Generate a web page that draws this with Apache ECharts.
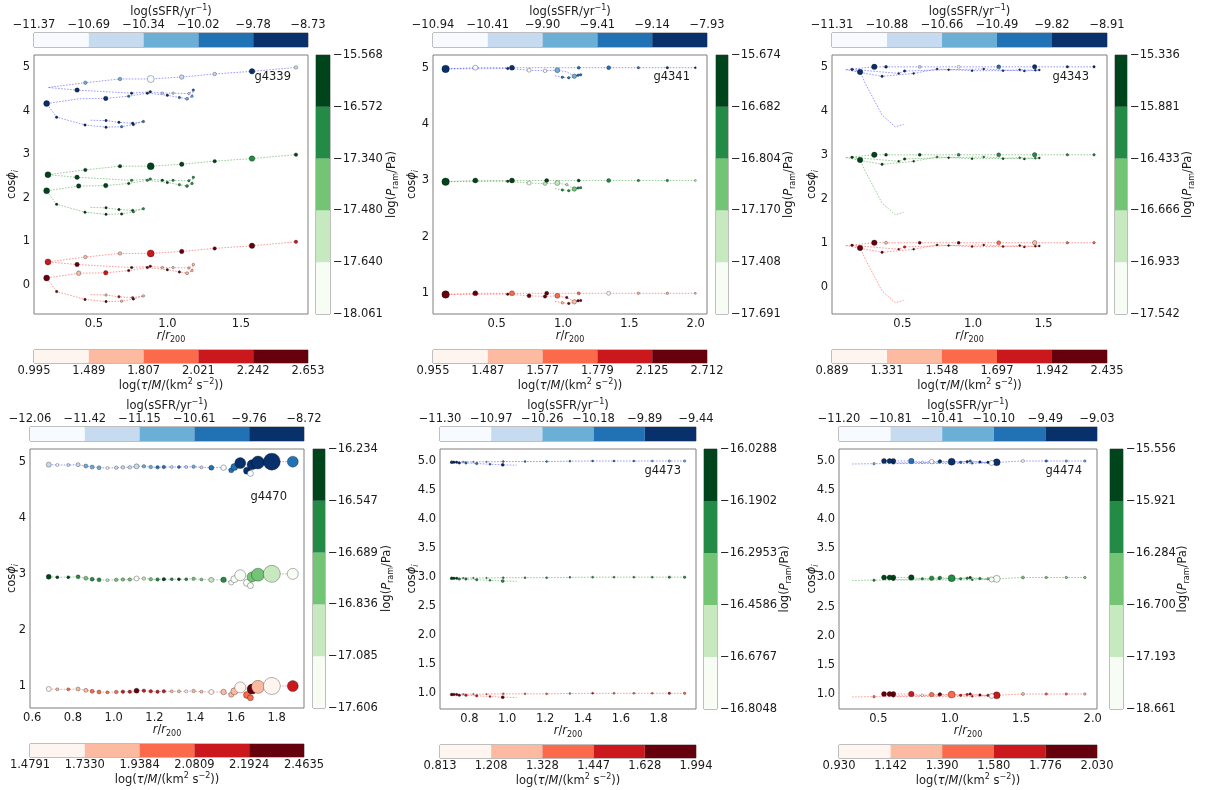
<!DOCTYPE html>
<html>
<head>
<meta charset="utf-8">
<script src="https://cdn.jsdelivr.net/npm/echarts@6/dist/echarts.min.js"></script>
<style>
  html, body { margin: 0; padding: 0; background: #fff; }
  #chart { width: 1205px; height: 790px; }
</style>
</head>
<body>
<div id="chart"></div>
<script>
// Five-level discrete colour maps used for the three tracks and their colour bars
const BLUES  = ['#f7fbff', '#c6dbef', '#6baed6', '#2171b5', '#08306b'];
const GREENS = ['#f7fcf5', '#c7e9c0', '#74c476', '#238b45', '#00441b'];
const REDS   = ['#fff5f0', '#fcbba1', '#fb6a4a', '#cb181d', '#67000d'];

// Vertical offsets of the three copies of each orbit (blue: sSFR, green: P_ram, red: tau/M)
const OFFSET_SSFR = 4, OFFSET_PRAM = 2, OFFSET_TAU = 0;

// ---- g4339 ----
const g4339_r    = [0.477,0.582,0.670,0.763,0.836,0.768,0.688,0.582,0.439,0.246,0.178, 0.396,0.580,0.736,0.863,0.999,1.081,1.133,1.167,1.176, 1.146,1.038,0.965,0.883,0.756,0.385,0.187, 0.441,0.677,0.886,1.097,1.321,1.575,1.874];
const g4339_cos  = [-0.22,-0.23,-0.27,-0.29,-0.25,-0.32,-0.37,-0.38,-0.33,-0.15,0.16, 0.27,0.28,0.33,0.40,0.35,0.30,0.27,0.33,0.47, 0.39,0.40,0.40,0.43,0.40,0.47,0.53, 0.64,0.725,0.725,0.77,0.84,0.90,0.99];
const g4339_size = [2,2.5,2.5,2.5,2.5,2.5,2.5,2.5,2.5,2.5,6, 4.5,4.5,2.5,2.5,2.5,2.5,3,2.5,2.5, 2.5,2.5,2.5,2.5,2.5,4.5,6, 3.5,3.5,7,4.5,3.5,5.5,3.5];
const g4339_ssfr = [null,4,4,4,3,4,3,4,4,4,4, null,4,3,4,4,3,2,2,3, 1,1,1,4,4,4,null, 2,2,0,1,1,4,1];
const g4339_pram = [null,4,4,4,3,3,4,4,4,4,4, 4,4,4,3,4,3,3,3,3, 3,3,4,3,3,4,4, 4,4,4,4,4,3,4];
const g4339_tau  = [null,1,3,3,1,4,1,4,4,4,4, 1,3,4,4,4,4,1,1,1, 1,1,1,4,4,4,3, 1,1,3,4,4,4,3];
const g4339_ssfrTicks = ['−11.37','−10.69','−10.34','−10.02','−9.78','−8.73'];
const g4339_pramTicks = ['−18.061','−17.640','−17.480','−17.340','−16.572','−15.568'];
const g4339_tauTicks  = ['0.995','1.489','1.807','2.021','2.242','2.653'];

// ---- g4341 ----
const g4341_r    = [1.997,1.786,1.568,1.344,1.118,0.877,0.615,0.339,0.115, 0.583,0.744,0.864,0.957,1.028,1.085,1.133,1.113,1.043,0.995,0.930];
const g4341_cos  = [1.0,1.0,1.0,1.0,1.0,1.0,1.0,1.0,0.979, 0.985,0.956,0.944,0.956,0.926,0.849,0.873,0.867,0.820,0.832,0.861];
const g4341_size = [2,2.5,2.5,4,3,4,5,5,7.5, 2.5,4,3.5,5,2.5,4.5,2.5,2.5,2.5,2.5,1.5];
const g4341_ssfr = [4,4,3,3,3,null,4,0,4, 4,0,0,2,null,2,3,3,3,3,null];
const g4341_pram = [1,3,3,3,4,4,4,4,4, 4,0,1,1,1,2,3,3,3,3,null];
const g4341_tau  = [1,1,1,0,2,4,2,4,4, 4,4,4,2,4,1,4,4,4,1,null];
const g4341_ssfrTicks = ['−10.94','−10.41','−9.90','−9.41','−9.14','−7.93'];
const g4341_pramTicks = ['−17.691','−17.408','−17.170','−16.804','−16.682','−15.674'];
const g4341_tauTicks  = ['0.955','1.487','1.577','1.779','2.125','2.712'];

// ---- g4343 ----
const g4343_r    = [1.858,1.669,1.437,1.182,0.898,0.622,0.383,0.300,0.095, 0.355,0.579,0.745,0.993,1.213,1.331,1.442,1.470,1.364,1.076,0.827,0.515,0.473,0.142,0.199, 0.236,0.355,0.449,0.508];
const g4343_cos  = [1.0,1.0,1.0,1.0,1.0,1.0,1.0,1.0,0.936, 0.784,0.852,0.951,0.913,0.913,0.936,0.921,0.928,0.906,0.951,0.936,0.906,0.852,0.943,0.883, 0.625,-0.097,-0.362,-0.309];
const g4343_size = [2.5,2.5,4.5,4,3,3,3,5.5,1.5, 2.5,2,2,2,2,2,2,2,2,2,2,2.5,2,2.5,5.5, 1.5,1.5,1.5,1.5];
const g4343_ssfr = [4,4,4,3,0,1,4,4,null, 4,4,4,4,4,4,4,4,4,4,4,4,4,4,4, null,null,null,null];
const g4343_pram = [3,3,3,3,3,4,4,4,null, 4,4,3,4,4,3,3,4,4,3,4,4,4,4,4, null,null,null,null];
const g4343_tau  = [2,2,1,2,4,4,1,4,null, 4,4,4,4,4,4,4,4,4,4,4,3,4,4,4, null,null,null,null];
const g4343_ssfrTicks = ['−11.31','−10.88','−10.66','−10.49','−9.82','−8.91'];
const g4343_pramTicks = ['−17.542','−16.933','−16.666','−16.433','−15.881','−15.336'];
const g4343_tauTicks  = ['0.889','1.331','1.548','1.697','1.942','2.435'];

// ---- g4470 ----
const g4470_r    = [0.681,0.723,0.777,0.825,0.863,0.894,0.928,0.969,1.012,1.045,1.079,1.112,1.148,1.182,1.215,1.246,1.285,1.320,1.356,1.392,1.431,1.479,1.539, 1.577,1.592,1.621,1.654,1.671,1.679,1.708,1.776,1.879];
const g4470_cos  = [0.947,0.941,0.941,0.947,0.923,0.905,0.893,0.887,0.893,0.899,0.899,0.917,0.917,0.905,0.899,0.905,0.905,0.905,0.905,0.911,0.899,0.893,0.893, 0.846,0.905,0.975,0.840,0.790,0.945,0.985,1.0,1.0];
const g4470_size = [5,3,3,4,4,4,4,3,3.5,3.5,3.5,5,3.5,3.5,3.5,3.5,3,3,3,3.5,3,5,5.5, 5,7,11,7,6,10,13,17,11];
const g4470_ssfr = [1,0,1,1,2,2,2,0,1,1,1,1,2,2,3,3,1,3,1,2,1,3,0, 3,3,4,4,0,4,4,4,3];
const g4470_pram = [4,4,4,3,2,3,3,1,2,2,2,0,1,2,3,4,3,4,3,2,2,1,3, 0,0,0,0,0,2,2,1,0];
const g4470_tau  = [0,1,2,1,1,2,2,2,2,3,3,4,3,3,3,3,1,1,0,1,1,0,1, 1,1,0,2,2,4,1,0,3];
const g4470_ssfrTicks = ['−12.06','−11.42','−11.15','−10.61','−9.76','−8.72'];
const g4470_pramTicks = ['−17.606','−17.085','−16.836','−16.689','−16.547','−16.234'];
const g4470_tauTicks  = ['1.4791','1.7330','1.9384','2.0809','2.1924','2.4635'];

// ---- g4473 ----
const g4473_r    = [1.937,1.856,1.766,1.669,1.564,1.451,1.331,1.208,1.094,0.979,0.891,0.821,0.768,0.733,0.719,0.707,0.747,0.782,0.839,0.909,0.976,1.050];
const g4473_cos  = [1.0,1.0,1.0,1.0,1.0,1.0,0.997,0.991,0.991,0.991,0.986,0.986,0.986,0.980,0.980,0.980,0.968,0.968,0.957,0.945,0.934,0.928];
const g4473_size = [2.5,2.5,2,2,2,2,2,2,2,2,1.5,1.5,1.5,2.5,2.5,3,2.5,2.5,2.5,2,3,1.5];
const g4473_ssfr = [2,2,2,3,3,3,3,3,3,3,2,2,2,4,4,4,4,3,3,3,4,null];
const g4473_pram = [3,3,3,3,3,3,3,3,3,3,3,3,3,4,4,4,3,3,3,3,3,null];
const g4473_tau  = [2,3,2,2,2,3,2,2,2,2,2,2,2,4,4,4,4,3,3,3,4,null];
const g4473_ssfrTicks = ['−11.30','−10.97','−10.26','−10.18','−9.89','−9.44'];
const g4473_pramTicks = ['−16.8048','−16.6767','−16.4586','−16.2953','−16.1902','−16.0288'];
const g4473_tauTicks  = ['0.813','1.208','1.328','1.447','1.628','1.994'];

// ---- g4474 ----
const g4474_r    = [1.945,1.815,1.675,1.512,1.328,1.267,1.211,1.143,1.076,1.013,0.931,0.873,0.808,0.731,0.605,0.579,0.540,0.605,0.924,1.122,1.293,1.157,0.470,0.307];
const g4474_cos  = [1.0,1.0,1.0,1.0,0.977,0.977,0.983,1.0,0.977,0.989,0.994,0.989,0.977,1.0,1.0,1.0,1.0,0.966,0.977,0.989,0.966,0.960,0.954,0.948];
const g4474_size = [2.5,2.5,2.5,3,7,2.5,2.5,2.5,2.5,7,3.5,4.5,2.5,5.5,5,5,5,2.5,2,2.5,5,2,2.5,1.5];
const g4474_ssfr = [2,2,3,0,4,4,4,3,3,4,4,0,0,3,4,4,4,4,3,4,0,3,2,null];
const g4474_pram = [2,2,2,2,0,2,3,4,3,3,3,3,3,4,4,4,4,4,3,3,0,3,3,null];
const g4474_tau  = [1,2,2,1,3,3,4,4,3,2,4,2,0,3,4,4,4,4,3,3,0,3,2,null];
const g4474_ssfrTicks = ['−11.20','−10.81','−10.41','−10.10','−9.49','−9.03'];
const g4474_pramTicks = ['−18.661','−17.193','−16.700','−16.284','−15.921','−15.556'];
const g4474_tauTicks  = ['0.930','1.142','1.390','1.580','1.776','2.030'];

// ---- panel layout ----
const panels = [
  { name: 'g4339', r: g4339_r, cos: g4339_cos, size: g4339_size, ssfr: g4339_ssfr, pram: g4339_pram, tau: g4339_tau,
    ssfrTicks: g4339_ssfrTicks, pramTicks: g4339_pramTicks, tauTicks: g4339_tauTicks,
    box: { x: 34, y: 55, w: 274, h: 259 }, cbar: { x: 316, w: 14 }, topY: 33, botY: 350,
    xr: [0.092, 1.956], yr: [-0.665, 5.275], xt: [0.5, 1, 1.5], yt: [0, 1, 2, 3, 4, 5], xd: 1, yd: 0,
    ygap: 14, pramGap: 54, label: { x: 291, y: 77 } },
  { name: 'g4341', r: g4341_r, cos: g4341_cos, size: g4341_size, ssfr: g4341_ssfr, pram: g4341_pram, tau: g4341_tau,
    ssfrTicks: g4341_ssfrTicks, pramTicks: g4341_pramTicks, tauTicks: g4341_tauTicks,
    box: { x: 433, y: 55, w: 274, h: 259 }, cbar: { x: 716, w: 12 }, topY: 33, botY: 350,
    xr: [0.02, 2.085], yr: [0.633, 5.225], xt: [0.5, 1, 1.5, 2], yt: [1, 2, 3, 4, 5], xd: 1, yd: 0,
    ygap: 13, pramGap: 53, label: { x: 690, y: 77 } },
  { name: 'g4343', r: g4343_r, cos: g4343_cos, size: g4343_size, ssfr: g4343_ssfr, pram: g4343_pram, tau: g4343_tau,
    ssfrTicks: g4343_ssfrTicks, pramTicks: g4343_pramTicks, tauTicks: g4343_tauTicks,
    box: { x: 832, y: 55, w: 275, h: 259 }, cbar: { x: 1115, w: 12 }, topY: 33, botY: 350,
    xr: [0.0, 1.95], yr: [-0.62, 5.27], xt: [0.5, 1, 1.5], yt: [0, 1, 2, 3, 4, 5], xd: 1, yd: 0,
    ygap: 12, pramGap: 53, label: { x: 1089, y: 77 } },
  { name: 'g4470', r: g4470_r, cos: g4470_cos, size: g4470_size, ssfr: g4470_ssfr, pram: g4470_pram, tau: g4470_tau,
    ssfrTicks: g4470_ssfrTicks, pramTicks: g4470_pramTicks, tauTicks: g4470_tauTicks,
    box: { x: 30, y: 449, w: 274, h: 259 }, cbar: { x: 313, w: 12 }, topY: 427, botY: 744,
    xr: [0.589, 1.934], yr: [0.608, 5.226], xt: [0.6, 0.8, 1.0, 1.2, 1.4, 1.6, 1.8], yt: [1, 2, 3, 4, 5], xd: 1, yd: 0,
    ygap: 10, pramGap: 54, label: { x: 287, y: 497 } },
  { name: 'g4473', r: g4473_r, cos: g4473_cos, size: g4473_size, ssfr: g4473_ssfr, pram: g4473_pram, tau: g4473_tau,
    ssfrTicks: g4473_ssfrTicks, pramTicks: g4473_pramTicks, tauTicks: g4473_tauTicks,
    box: { x: 440, y: 449, w: 256, h: 260 }, cbar: { x: 704, w: 13 }, topY: 427, botY: 745,
    xr: [0.645, 1.997], yr: [0.73, 5.207], xt: [0.8, 1.0, 1.2, 1.4, 1.6, 1.8], yt: [1, 1.5, 2, 2.5, 3, 3.5, 4, 4.5, 5], xd: 1, yd: 1,
    ygap: 20, pramGap: 60, label: { x: 681, y: 471 } },
  { name: 'g4474', r: g4474_r, cos: g4474_cos, size: g4474_size, ssfr: g4474_ssfr, pram: g4474_pram, tau: g4474_tau,
    ssfrTicks: g4474_ssfrTicks, pramTicks: g4474_pramTicks, tauTicks: g4474_tauTicks,
    box: { x: 839, y: 449, w: 258, h: 260 }, cbar: { x: 1110, w: 13 }, topY: 427, botY: 745,
    xr: [0.225, 2.03], yr: [0.742, 5.206], xt: [0.5, 1, 1.5, 2], yt: [1, 1.5, 2, 2.5, 3, 3.5, 4, 4.5, 5], xd: 1, yd: 1,
    ygap: 19, pramGap: 52, label: { x: 1082, y: 471 } }
];

const FONT = 'DejaVu Sans';
const TXT = '#1a1a1a';
const FS = 11.5;
const FRAME = '#7f7f7f';
const RICH = {
  n:    { fontFamily: FONT, fontSize: FS, lineHeight: 16, color: TXT },
  i:    { fontFamily: FONT, fontSize: FS, lineHeight: 16, color: TXT, fontStyle: 'italic' },
  sub:  { fontFamily: FONT, fontSize: 8, lineHeight: 9, color: TXT, verticalAlign: 'bottom' },
  subi: { fontFamily: FONT, fontSize: 8, lineHeight: 9, color: TXT, verticalAlign: 'bottom', fontStyle: 'italic' },
  sup:  { fontFamily: FONT, fontSize: 8, lineHeight: 9, color: TXT, verticalAlign: 'top' }
};
const NAME_R    = '{i|r}{n|/}{i|r}{sub|200}';
const NAME_COS  = '{n|cos}{i|ϕ}{subi|i}';
const NAME_SSFR = '{n|log(sSFR/yr}{sup|−1}{n|)}';
const NAME_PRAM = '{n|log(}{i|P}{sub|ram}{n|/Pa)}';
const NAME_TAU  = '{n|log(}{i|τ}{n|/}{i|M}{n|/(km}{sup|2}{n| s}{sup|−2}{n|))}';
const labelStyle = { fontFamily: FONT, fontSize: FS, color: TXT };
const LEVELS = [0, 1, 2, 3, 4];
const EDGES = [0, 1, 2, 3, 4, 5];

const option = {
  animation: false,
  textStyle: { fontFamily: FONT },
  grid: [], xAxis: [], yAxis: [], series: [], graphic: []
};

function addGrid(x, y, w, h) {
  option.grid.push({ left: x, top: y, width: w, height: h, show: true,
    borderColor: FRAME, borderWidth: 1, backgroundColor: 'transparent' });
  return option.grid.length - 1;
}

const hiddenAxis = (gi, min, max) => ({ gridIndex: gi, type: 'value', min: min, max: max, show: false });

// Colour-bar cells: one rect per level, placed through the bar's own axes
function cellRenderer(colors, vertical) {
  return function (params, api) {
    const i = api.value(0);
    const p0 = vertical ? api.coord([0, i]) : api.coord([i, 0]);
    const p1 = vertical ? api.coord([1, i + 1]) : api.coord([i + 1, 1]);
    return {
      type: 'rect',
      shape: { x: Math.min(p0[0], p1[0]), y: Math.min(p0[1], p1[1]),
               width: Math.abs(p1[0] - p0[0]), height: Math.abs(p1[1] - p0[1]) },
      style: { fill: colors[i] }
    };
  };
}

function addTrack(p, gi, bins, colors, offset, lineColor) {
  const data = p.r.map((x, k) => {
    const b = bins[k];
    return {
      value: [x, p.cos[k] + offset],
      symbol: b == null ? 'none' : 'circle',
      symbolSize: p.size[k],
      itemStyle: { color: b == null ? 'transparent' : colors[b] }
    };
  });
  option.series.push({
    type: 'line', xAxisIndex: gi, yAxisIndex: gi, data: data,
    showSymbol: true, showAllSymbol: true, silent: true,
    lineStyle: { color: lineColor, width: 1, opacity: 0.4, type: [1.6, 1.4] },
    itemStyle: { borderColor: 'rgba(0,0,0,0.6)', borderWidth: 0.5 },
    emphasis: { disabled: true }, z: 3
  });
}

panels.forEach(p => {
  const b = p.box;

  // main orbit plot
  const gm = addGrid(b.x, b.y, b.w, b.h);
  option.xAxis.push({
    gridIndex: gm, type: 'value', min: p.xr[0], max: p.xr[1],
    axisLine: { show: false }, axisTick: { show: false }, splitLine: { show: false },
    axisLabel: Object.assign({ customValues: p.xt, margin: 4, formatter: v => v.toFixed(p.xd) }, labelStyle),
    name: NAME_R, nameLocation: 'middle', nameGap: 14, nameMoveOverlap: false, nameTextStyle: { rich: RICH }
  });
  option.yAxis.push({
    gridIndex: gm, type: 'value', min: p.yr[0], max: p.yr[1],
    axisLine: { show: false }, axisTick: { show: false }, splitLine: { show: false },
    axisLabel: Object.assign({ customValues: p.yt, margin: 4, formatter: v => v.toFixed(p.yd) }, labelStyle),
    name: NAME_COS, nameLocation: 'middle', nameGap: p.ygap, nameRotate: 90, nameMoveOverlap: false,
    nameTextStyle: { rich: RICH }
  });
  addTrack(p, gm, p.tau, REDS, OFFSET_TAU, '#ff0000');
  addTrack(p, gm, p.pram, GREENS, OFFSET_PRAM, '#008000');
  addTrack(p, gm, p.ssfr, BLUES, OFFSET_SSFR, '#0000ff');

  option.graphic.push({
    type: 'text', x: p.label.x, y: p.label.y, silent: true, z: 10,
    style: { text: p.name, fontFamily: FONT, fontSize: 11.5, fill: TXT, align: 'right', verticalAlign: 'middle' }
  });

  // top colour bar: sSFR
  const gt = addGrid(b.x, p.topY, b.w, 14);
  option.xAxis.push({
    gridIndex: gt, type: 'value', min: 0, max: 5, position: 'top',
    axisLine: { show: false }, axisTick: { show: false }, splitLine: { show: false },
    axisLabel: Object.assign({ customValues: EDGES, margin: 2, formatter: v => p.ssfrTicks[Math.round(v)] }, labelStyle),
    name: NAME_SSFR, nameLocation: 'middle', nameGap: 13, nameMoveOverlap: false, nameTextStyle: { rich: RICH }
  });
  option.yAxis.push(hiddenAxis(gt, 0, 1));
  option.series.push({ type: 'custom', xAxisIndex: gt, yAxisIndex: gt, silent: true,
    data: LEVELS.map(i => [i, 0]), renderItem: cellRenderer(BLUES, false) });

  // right colour bar: P_ram
  const gr = addGrid(p.cbar.x, b.y, p.cbar.w, b.h);
  option.xAxis.push(hiddenAxis(gr, 0, 1));
  option.yAxis.push({
    gridIndex: gr, type: 'value', min: 0, max: 5, position: 'right',
    axisLine: { show: false }, axisTick: { show: false }, splitLine: { show: false },
    axisLabel: Object.assign({ customValues: EDGES, margin: 3, formatter: v => p.pramTicks[Math.round(v)] }, labelStyle),
    name: NAME_PRAM, nameLocation: 'middle', nameGap: p.pramGap, nameRotate: 90, nameMoveOverlap: false,
    nameTextStyle: { rich: RICH }
  });
  option.series.push({ type: 'custom', xAxisIndex: gr, yAxisIndex: gr, silent: true,
    data: LEVELS.map(i => [i, 0]), renderItem: cellRenderer(GREENS, true) });

  // bottom colour bar: tau/M
  const gb = addGrid(b.x, p.botY, b.w, 13);
  option.xAxis.push({
    gridIndex: gb, type: 'value', min: 0, max: 5, position: 'bottom',
    axisLine: { show: false }, axisTick: { show: false }, splitLine: { show: false },
    axisLabel: Object.assign({ customValues: EDGES, margin: 2, formatter: v => p.tauTicks[Math.round(v)] }, labelStyle),
    name: NAME_TAU, nameLocation: 'middle', nameGap: 15, nameMoveOverlap: false, nameTextStyle: { rich: RICH }
  });
  option.yAxis.push(hiddenAxis(gb, 0, 1));
  option.series.push({ type: 'custom', xAxisIndex: gb, yAxisIndex: gb, silent: true,
    data: LEVELS.map(i => [i, 0]), renderItem: cellRenderer(REDS, false) });
});

const chart = echarts.init(document.getElementById('chart'), null, { renderer: 'canvas' });
chart.setOption(option);
</script>
</body>
</html>
